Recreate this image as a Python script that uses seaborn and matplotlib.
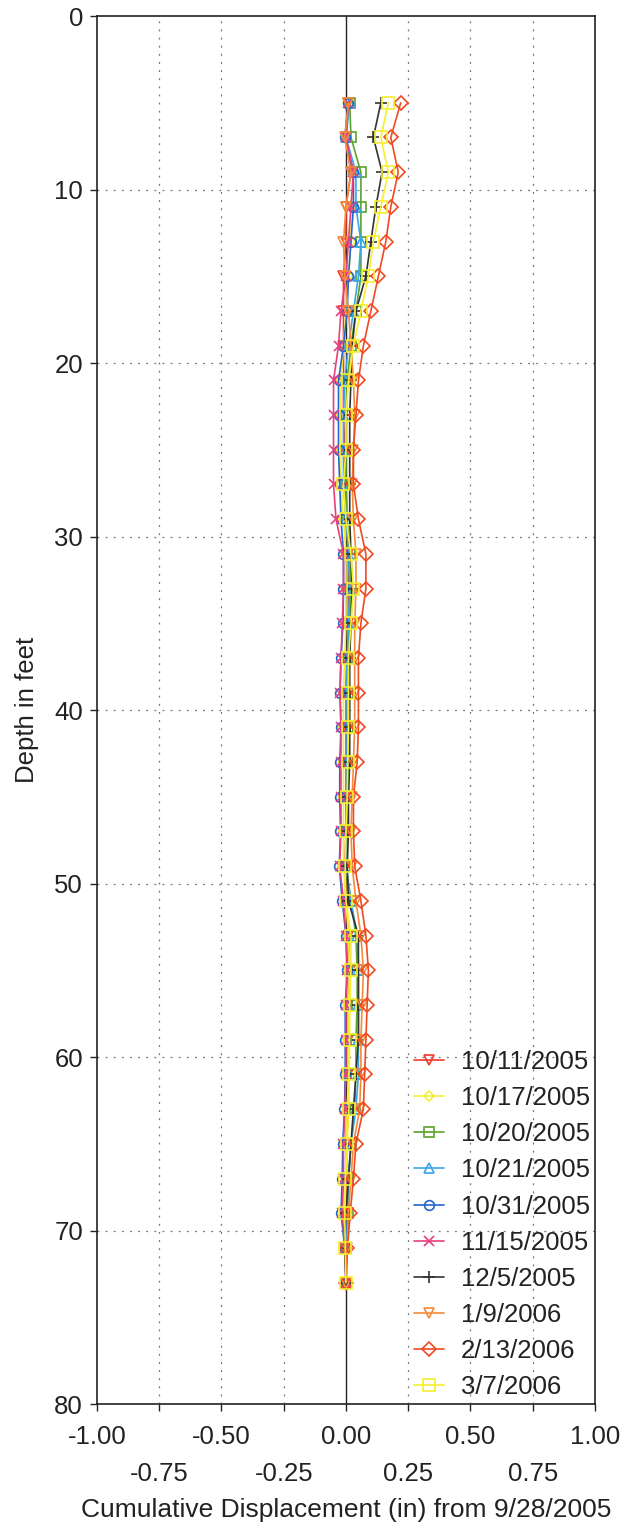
import numpy as np
import pandas as pd
import matplotlib
matplotlib.use("Agg")
import matplotlib.pyplot as plt
import seaborn as sns

depths = [5, 7, 9, 11, 13, 15, 17, 19, 21, 23, 25, 27, 29, 31, 33, 35, 37, 39, 41,
          43, 45, 47, 49, 51, 53, 55, 57, 59, 61, 63, 65, 67, 69, 71, 73]

s_10_11 = [0.01, 0.0, 0.02, 0.0, 0.0, -0.01, -0.01, -0.01, -0.01, -0.01, -0.005, -0.005, 0.0,
           0.01, 0.01, 0.01, 0.005, 0.0, 0.0, 0.0, 0.0, 0.0, -0.005, 0.0, 0.01, 0.015, 0.01,
           0.01, 0.01, 0.005, 0.0, 0.0, 0.0, 0.0, 0.0]
s_10_17 = [0.01, 0.0, 0.03, 0.02, 0.02, 0.01, 0.0, -0.01, -0.02, -0.02, -0.02, -0.02, -0.01,
           0.0, 0.0, 0.0, -0.005, -0.01, -0.01, -0.01, -0.01, -0.01, -0.01, 0.0, 0.01, 0.015,
           0.01, 0.01, 0.01, 0.005, 0.0, 0.0, -0.005, 0.0, 0.0]
s_10_20 = [0.015, 0.02, 0.06, 0.06, 0.06, 0.06, 0.04, 0.02, 0.005, 0.0, 0.0, 0.0, 0.005,
           0.015, 0.02, 0.015, 0.01, 0.01, 0.01, 0.01, 0.005, 0.005, 0.0, 0.02, 0.04, 0.045,
           0.045, 0.04, 0.04, 0.035, 0.02, 0.01, 0.01, 0.0, 0.0]
s_10_21 = [0.015, 0.0, 0.04, 0.04, 0.06, 0.05, 0.03, 0.01, -0.005, -0.01, -0.01, -0.01, 0.0,
           0.01, 0.015, 0.01, 0.005, 0.0, 0.0, 0.0, 0.0, 0.0, 0.0, 0.02, 0.045, 0.05, 0.05,
           0.05, 0.05, 0.04, 0.02, 0.01, 0.005, 0.0, 0.0]
s_10_31 = [0.01, -0.005, 0.03, 0.03, 0.02, 0.01, 0.005, -0.01, -0.03, -0.03, -0.03, -0.025,
           -0.02, -0.01, -0.01, -0.012, -0.02, -0.024, -0.02, -0.025, -0.025, -0.022, -0.027,
           -0.015, 0.0, 0.006, -0.003, -0.003, -0.003, -0.006, -0.013, -0.015, -0.02, -0.005, 0.0]
s_11_15 = [0.01, 0.0, 0.03, 0.02, 0.01, 0.0, -0.02, -0.03, -0.05, -0.05, -0.05, -0.05, -0.04,
           -0.01, -0.01, -0.015, -0.02, -0.024, -0.02, -0.02, -0.02, -0.02, -0.025, -0.01, 0.0,
           0.005, 0.0, 0.0, 0.0, -0.005, -0.01, -0.01, -0.015, -0.005, 0.0]
s_12_5 = [0.14, 0.11, 0.145, 0.12, 0.10, 0.08, 0.04, 0.025, 0.02, 0.015, 0.015, 0.015, 0.015,
          0.02, 0.025, 0.02, 0.015, 0.015, 0.015, 0.015, 0.01, 0.01, 0.005, 0.01, 0.05, 0.05,
          0.05, 0.05, 0.04, 0.03, 0.02, 0.01, 0.0, -0.005, 0.0]
s_1_9 = [0.01, -0.005, 0.02, 0.0, -0.01, -0.005, 0.01, 0.02, 0.03, 0.035, 0.03, 0.025, 0.03,
         0.04, 0.04, 0.035, 0.035, 0.035, 0.035, 0.03, 0.025, 0.02, 0.025, 0.04, 0.06, 0.07,
         0.065, 0.06, 0.06, 0.055, 0.03, 0.02, 0.01, 0.005, 0.0]
s_2_13 = [0.22, 0.18, 0.21, 0.18, 0.16, 0.13, 0.10, 0.07, 0.05, 0.04, 0.03, 0.03, 0.05, 0.08,
          0.08, 0.06, 0.05, 0.05, 0.05, 0.045, 0.03, 0.03, 0.035, 0.06, 0.08, 0.09, 0.085, 0.08,
          0.075, 0.07, 0.04, 0.03, 0.017, 0.006, 0.0]
s_3_7 = [0.17, 0.14, 0.17, 0.14, 0.11, 0.09, 0.06, 0.03, 0.01, 0.0, 0.0, -0.01, 0.0, 0.02,
         0.03, 0.02, 0.01, 0.01, 0.01, 0.007, 0.005, 0.0, -0.003, 0.0, 0.02, 0.02, 0.015, 0.015,
         0.012, 0.012, 0.005, -0.003, -0.005, -0.003, 0.0]

series_names = ["10/11/2005", "10/17/2005", "10/20/2005", "10/21/2005", "10/31/2005",
                "11/15/2005", "12/5/2005", "1/9/2006", "2/13/2006", "3/7/2006"]
series_values = [s_10_11, s_10_17, s_10_20, s_10_21, s_10_31, s_11_15, s_12_5, s_1_9, s_2_13, s_3_7]
colors = ["#f03a2c", "#f2ec3a", "#5aa32c", "#3aa6e8", "#2266cc", "#e8407e", "#333333",
          "#f58a3a", "#f04a22", "#f5ef30"]
markers = ["v", "D", "s", "^", "o", "x", "+", "v", "D", "s"]
msizes = [7, 5, 7, 7, 7, 7, 8, 7, 7, 9]

x_major = [-1.0, -0.5, 0.0, 0.5, 1.0]
x_minor = [-0.75, -0.25, 0.25, 0.75]
y_ticks = [0, 10, 20, 30, 40, 50, 60, 70, 80]

sns.set_theme(style="white")
plt.rcParams["font.family"] = ["Liberation Sans", "DejaVu Sans"]
plt.rcParams["axes.unicode_minus"] = False

fig = plt.figure(figsize=(6.24, 15.24), dpi=100)
ax = fig.add_axes([0.1554, 0.0787, 0.7981, 0.9108])

# grid
for gx in [-0.75, -0.5, -0.25, 0.25, 0.5, 0.75]:
    ax.axvline(gx, color="#777777", lw=0.9, ls=(0, (1.5, 5)), zorder=0)
for gy in [10, 20, 30, 40, 50, 60, 70]:
    ax.axhline(gy, color="#777777", lw=0.9, ls=(0, (1.5, 5)), zorder=0)
ax.axvline(0, color="#222222", lw=1.0, zorder=1)

for name, vals, c, m, ms in zip(series_names, series_values, colors, markers, msizes):
    sns.lineplot(x=vals, y=depths, sort=False, estimator=None, ax=ax, color=c, lw=1.2,
                 marker=m, markersize=ms, markerfacecolor="none", markeredgecolor=c,
                 markeredgewidth=1.2, label=name, zorder=3)

ax.set_xlim(-1.0, 1.0)
ax.set_ylim(80, 0)
ax.set_xticks(x_major)
ax.set_xticklabels([f"{v:.2f}" for v in x_major])
ax.set_xticks(x_minor, minor=True)
ax.set_xticklabels([f"{v:.2f}" for v in x_minor], minor=True)
ax.set_yticks(y_ticks)
ax.set_yticklabels([str(v) for v in y_ticks])

ax.tick_params(axis="x", which="major", direction="out", length=5, width=1, color="#222222",
               labelsize=18.5, labelcolor="#222222", pad=10, bottom=True)
ax.tick_params(axis="x", which="minor", direction="out", length=5, width=1, color="#222222",
               labelsize=18.5, labelcolor="#222222", pad=36.5, bottom=True)
ax.tick_params(axis="y", direction="out", length=5, width=1, color="#222222",
               labelsize=18.5, labelcolor="#222222", pad=5, left=True)

for sp in ax.spines.values():
    sp.set_color("#222222")
    sp.set_linewidth(1.2)

ax.set_xlabel("Cumulative Displacement (in) from 9/28/2005", fontsize=19, color="#222222",
              labelpad=9)
ax.set_ylabel("Depth in feet", fontsize=18.5, color="#222222", labelpad=11)

leg = ax.legend(loc="lower right", bbox_to_anchor=(1.0, 0.0), frameon=False, fontsize=18.5,
                handlelength=1.15, labelspacing=0.47, handletextpad=0.65, borderpad=0.2,
                borderaxespad=0.0)
for t in leg.get_texts():
    t.set_color("#222222")

fig.savefig("out.png", dpi=100, facecolor="white")
